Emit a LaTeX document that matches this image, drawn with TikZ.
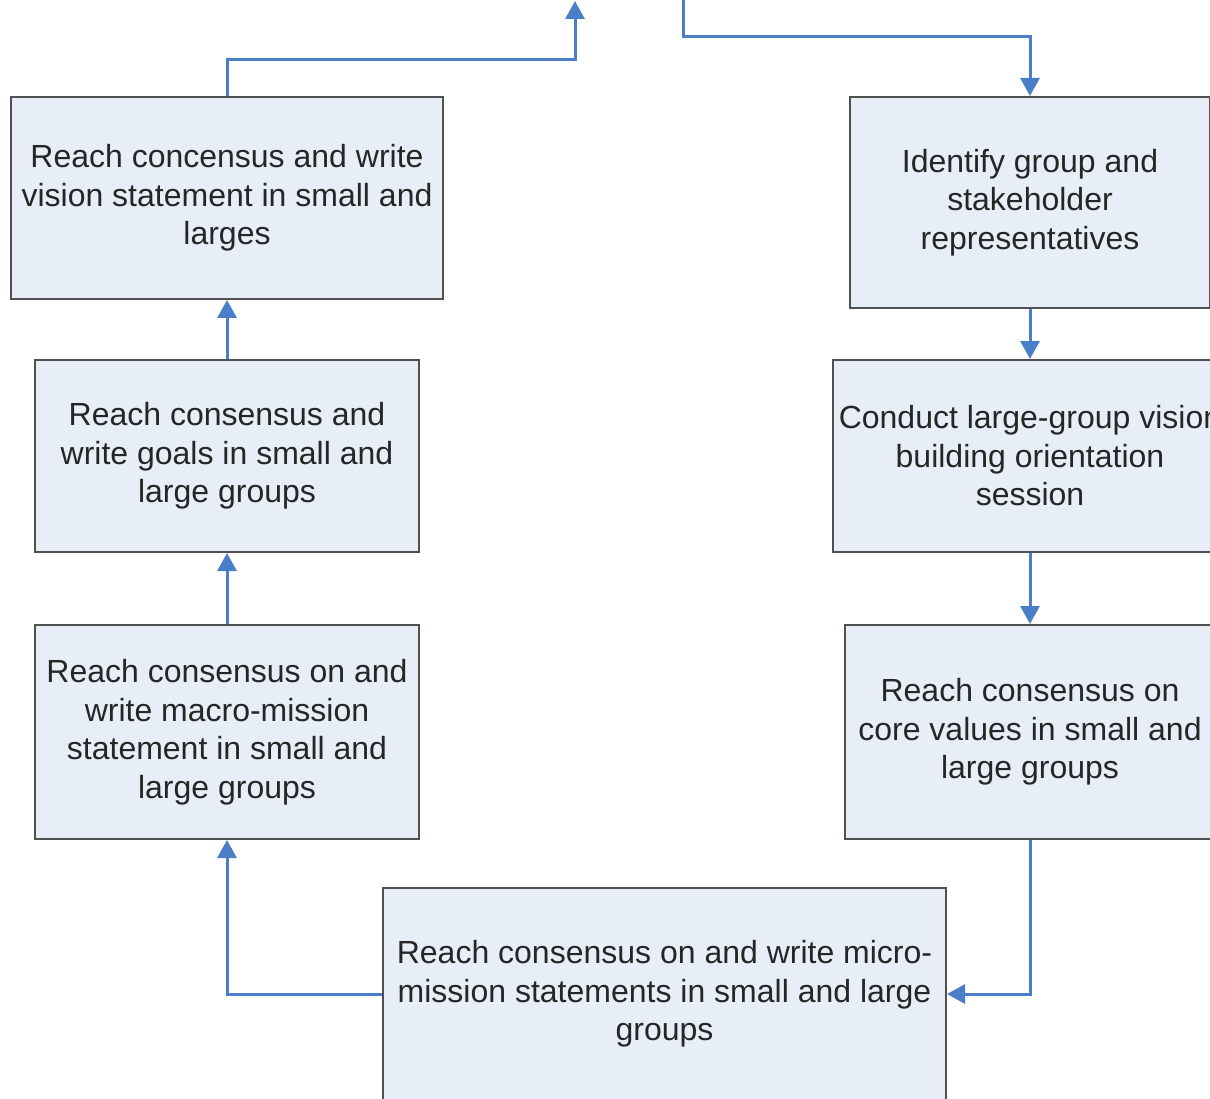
\documentclass[tikz,border=0pt]{standalone}
\usepackage{fontspec}
\setmainfont{Liberation Sans}
\usetikzlibrary{arrows.meta}
\definecolor{boxfill}{HTML}{E8EEF8}
\definecolor{boxline}{HTML}{505050}
\definecolor{arrowblue}{HTML}{4A7EC8}
\definecolor{txt}{HTML}{262626}
\tikzset{
  box/.style={draw=boxline, fill=boxfill, line width=2pt, rectangle, align=center,
    inner sep=0pt, text=txt, font=\fontsize{32pt}{38.5pt}\selectfont},
  arr/.style={draw=arrowblue, line width=3pt, -{Triangle[width=19pt,length=18pt]}},
  ln/.style={draw=arrowblue, line width=3pt}
}
\begin{document}
\begin{tikzpicture}[x=1pt,y=-1pt]
\useasboundingbox (0,0) rectangle (1210,1099);
\clip (0,0) rectangle (1210,1099);
\fill[white] (0,0) rectangle (1210,1099);

\node[box, minimum width=432pt, minimum height=202pt] (A) at (227,198)
  {Reach concensus and write\\vision statement in small and\\larges};
\node[box, minimum width=384pt, minimum height=192pt] (B) at (227,456)
  {Reach consensus and\\write goals in small and\\large groups};
\node[box, minimum width=384pt, minimum height=214pt] (C) at (227,732)
  {Reach consensus on and\\write macro-mission\\statement in small and\\large groups};
\node[box, minimum width=563pt, minimum height=212pt] (D) at (664.5,994)
  {Reach consensus on and write micro-\\mission statements in small and large\\groups};
\node[box, minimum width=360pt, minimum height=211pt] (E) at (1030,202.5)
  {Identify group and\\stakeholder\\representatives};
\node[box, minimum width=394pt, minimum height=192pt] (F) at (1030,456)
  {Conduct large-group vision\\building orientation\\session};
\node[box, minimum width=370pt, minimum height=214pt] (G) at (1030,732)
  {Reach consensus on\\core values in small and\\large groups};

\coordinate (t1) at (575,1);
\coordinate (b1) at (575,60);
\coordinate (t2) at (683,-5);
\coordinate (b2) at (1030,37);

\draw[arr] (A.north) |- (b1) -- (t1);
\draw[arr] (t2) |- (b2) -- (E.north);
\draw[arr] (E.south) -- (F.north);
\draw[arr] (F.south) -- (G.north);
\draw[arr] (G.south) |- (D.east);
\draw[arr] (D.west) -| (C.south);
\draw[arr] (C.north) -- (B.south);
\draw[arr] (B.north) -- (A.south);
\end{tikzpicture}
\end{document}
